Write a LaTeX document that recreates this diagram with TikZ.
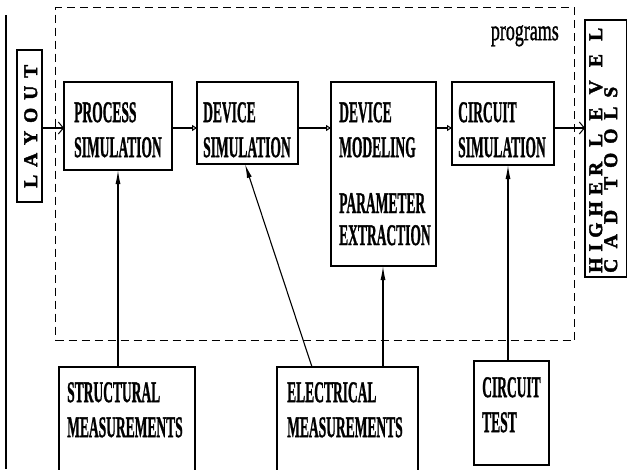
\documentclass[tikz,border=0pt]{standalone}
\usepackage{fontspec}
\usetikzlibrary{arrows.meta,calc}
\newfontfamily\boxfont{Liberation Serif}[FakeBold=1.5]
\newfontfamily\capfont{Liberation Serif}[FakeBold=2]
% narrow box lettering
\newcommand\cz[1]{\scalebox{0.45}[1]{#1}}
\newcommand\cp[1]{\scalebox{0.62}[1]{#1}}
% letters spread evenly over a given length
\newcommand\spreadto[2]{\hbox to #1{#2}}
\tikzset{
  box/.style={draw, line width=1.3pt, anchor=north west, inner sep=0pt, outer sep=0pt},
  frame/.style={draw, line width=1.3pt, dash pattern=on 8pt off 5pt, anchor=north west, inner sep=0pt},
  bt/.style={anchor=north west, inner sep=0pt, align=left,
    font=\boxfont\fontsize{30}{35}\selectfont\bfseries},
  spaced/.style={inner sep=0pt, rotate=90, align=left, anchor=north west,
    font=\capfont\fontsize{19.5}{15}\selectfont\bfseries},
  conn/.style={line width=1.1pt},
  barb/.style={conn, -{Straight Barb[length=5pt,width=12pt,line width=1pt]}},
  otri/.style={conn, -{Triangle[open,length=5pt,width=6pt,line width=1pt]}},
  fa/.style={conn, -{Latex[length=14pt,width=5pt]}}
}
\begin{document}
\begin{tikzpicture}[x=1pt,y=-1pt]
\useasboundingbox (0,0) rectangle (627,469);
\clip (0,0) rectangle (627,469);

% left margin rule
\draw[line width=1.6pt] (6,15) -- (6,469);

% programs frame
\node[frame, minimum width=519pt, minimum height=333pt] (prog) at (55,7) {};
\node[anchor=north east, inner sep=0pt, font=\boxfont\fontsize{29}{35}\selectfont] (progtxt) at (559,25) {\cp{programs}};

% side boxes
\node[box, minimum width=25pt, minimum height=152pt] (layout) at (17,50) {};
\node[spaced] (layouttxt) at (24,188) {\spreadto{123pt}{L\hfil A\hfil Y\hfil O\hfil U\hfil T}};
\node[box, minimum width=42pt, minimum height=257pt] (hlt) at (585,20) {};
\node[spaced] (hlttxt) at (589,273)
  {\spreadto{111pt}{H\hfil I\hfil G\hfil H\hfil E\hfil R}\hspace{15pt}\spreadto{119pt}{L\hfil E\hfil V\hfil E\hfil L}\\
   \spreadto{63pt}{C\hfil A\hfil D}\hspace{20pt}\spreadto{103pt}{T\hfil O\hfil O\hfil L\hfil S}};

% program boxes
\node[box, minimum width=108pt, minimum height=88pt] (proc) at (64,82) {};
\node[bt] (proctxt) at (74,102) {\cz{PROCESS}\\\cz{SIMULATION}};
\node[box, minimum width=101pt, minimum height=82pt] (devsim) at (197,82) {};
\node[bt] (devsimtxt) at (203,102) {\cz{DEVICE}\\\cz{SIMULATION}};
\node[box, minimum width=105pt, minimum height=184pt] (model) at (331,82) {};
\node[bt] (modeltxt) at (339,102) {\cz{DEVICE}\\\cz{MODELING}};
\node[bt] (extrtxt) at (339,193) {\cz{PARAMETER}\\[-3pt]\cz{EXTRACTION}};
\node[box, minimum width=102pt, minimum height=83pt] (circ) at (452,82) {};
\node[bt] (circtxt) at (458,102) {\cz{CIRCUIT}\\\cz{SIMULATION}};

% measurement boxes
\node[box, minimum width=136pt, minimum height=120pt] (struct) at (59,367) {};
\node[bt] (structtxt) at (67,382) {\cz{STRUCTURAL}\\\cz{MEASUREMENTS}};
\node[box, minimum width=141pt, minimum height=120pt] (elec) at (277,367) {};
\node[bt] (electxt) at (287,382) {\cz{ELECTRICAL}\\\cz{MEASUREMENTS}};
\node[box, minimum width=75pt, minimum height=104pt] (ctest) at (474,361) {};
\node[bt] (ctesttxt) at (482,377) {\cz{CIRCUIT}\\\cz{TEST}};

% flow through the programs
\coordinate (row) at (0,128);
\draw[barb] (layout.east |- row) -- (proc.west |- row);
\draw[otri] (proc.east |- row) -- (devsim.west |- row);
\draw[otri] (devsim.east |- row) -- (model.west |- row);
\draw[otri] (model.east |- row) -- (circ.west |- row);
\draw[barb] (circ.east |- row) -- (hlt.west |- row);

% measurements feeding the programs
\coordinate (mfoot) at ([xshift=52pt]model.south west);
\coordinate (cfoot) at ([xshift=56pt]circ.south west);
\draw[fa] (struct.north -| proc.south) -- (proc.south);
\draw[fa] ([xshift=35pt]elec.north west) -- ([xshift=48pt]devsim.south west);
\draw[fa] (elec.north -| mfoot) -- (mfoot);
\draw[fa] (ctest.north -| cfoot) -- (cfoot);
\end{tikzpicture}
\end{document}
